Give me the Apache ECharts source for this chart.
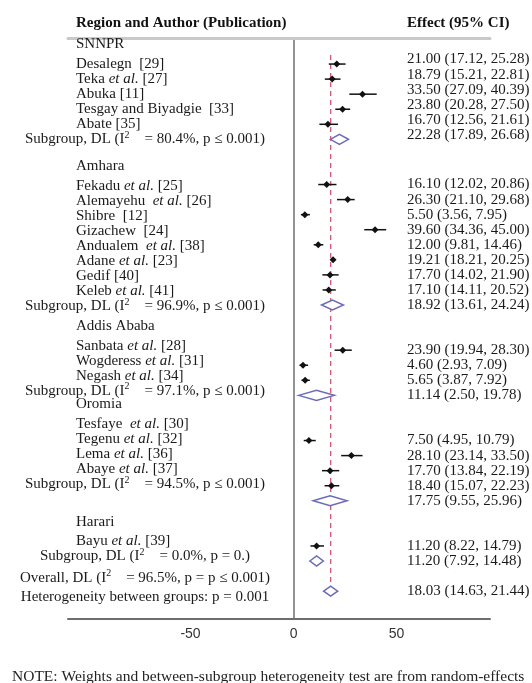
<!DOCTYPE html>
<html>
<head>
<meta charset="utf-8">
<script src="https://cdn.jsdelivr.net/npm/echarts@6/dist/echarts.min.js"></script>
<style>
  html, body { margin: 0; padding: 0; background: #fff; }
  #chart { width: 532px; height: 683px; }
</style>
</head>
<body>
<div id="chart"></div>
<script>
// ---- data ----
const regions = ['SNNPR', 'Amhara', 'Addis Ababa', 'Oromia', 'Harari'];

const studyLabels = [
  'Desalegn  [29]', 'Teka et al. [27]', 'Abuka [11]', 'Tesgay and Biyadgie  [33]', 'Abate [35]',
  'Fekadu et al. [25]', 'Alemayehu  et al. [26]', 'Shibre  [12]', 'Gizachew  [24]',
  'Andualem  et al. [38]', 'Adane et al. [23]', 'Gedif [40]', 'Keleb et al. [41]',
  'Sanbata et al. [28]', 'Wogderess et al. [31]', 'Negash et al. [34]',
  'Tesfaye  et al. [30]', 'Tegenu et al. [32]', 'Lema et al. [36]', 'Abaye et al. [37]',
  'Bayu et al. [39]'
];
const studyRegion = [0, 0, 0, 0, 0, 1, 1, 1, 1, 1, 1, 1, 1, 2, 2, 2, 3, 3, 3, 3, 4];
const studyEffect = [21.00, 18.79, 33.50, 23.80, 16.70, 16.10, 26.30, 5.50, 39.60, 12.00, 19.21,
  17.70, 17.10, 23.90, 4.60, 5.65, 7.50, 28.10, 17.70, 18.40, 11.20];
const studyLow = [17.12, 15.21, 27.09, 20.28, 12.56, 12.02, 21.10, 3.56, 34.36, 9.81, 18.21,
  14.02, 14.11, 19.94, 2.93, 3.87, 4.95, 23.14, 13.84, 15.07, 8.22];
const studyHigh = [25.28, 22.81, 40.39, 27.50, 21.61, 20.86, 29.68, 7.95, 45.00, 14.46, 20.25,
  21.90, 20.52, 28.30, 7.09, 7.92, 10.79, 33.50, 22.19, 22.23, 14.79];

const subgroupEffect = [22.28, 18.92, 11.14, 17.75, 11.20];
const subgroupLow = [17.89, 13.61, 2.50, 9.55, 7.92];
const subgroupHigh = [26.68, 24.24, 19.78, 25.96, 14.48];
const subgroupI2 = ['80.4%', '96.9%', '97.1%', '94.5%', '0.0%'];
const subgroupP = ['p ≤ 0.001', 'p ≤ 0.001', 'p ≤ 0.001', 'p ≤ 0.001', 'p = 0.'];

const overallEffect = 18.03;
const overallLow = 14.63;
const overallHigh = 21.44;
const overallI2 = '96.5%';
const overallP = 'p = p ≤ 0.001';
const heterogeneityP = 'p = 0.001';

const xTicks = [-50, 0, 50];

// ---- layout ----
const X_MIN = -109.5, X_MAX = 95.4;
const ROW_MIN = -1.73, ROW_MAX = 36.85;
const SERIF = 'Liberation Serif';
const FS = 15;
const labelShift = [0, 0.1, -0.3, -1.1, -0.3];   // per-region offset of the left-hand labels
const valueShift = [-0.3, 0, 0, 0, 0];          // per-region offset of the effect column
const headerShift = -0.3;

const fmt = v => v.toFixed(2);
const ciText = (e, l, h) => `${fmt(e)} (${fmt(l)}, ${fmt(h)})`;
const richAuthor = s => s.replace('et al.', '{i|et al.}');
const i2Text = (lead, i2, p) => `${lead}, DL (I{sup|2}    = ${i2}, ${p})`;

// build table rows: region header, studies, subgroup summary, blank line
const marks = [];      // [effect, low, high, row, kind]  kind 0 = study, 1 = pooled diamond
const leftRows = [];   // [x placeholder, row]
const leftTexts = [];
const leftKinds = [];  // 'left' | 'center'
const rightRows = [];
const rightTexts = [];

let row = -1;
regions.forEach((reg, g) => {
  leftTexts.push(reg); leftKinds.push('left');
  leftRows.push([0, row + labelShift[g] + headerShift]);
  row++;
  studyRegion.forEach((sr, i) => {
    if (sr !== g) return;
    marks.push([studyEffect[i], studyLow[i], studyHigh[i], row, 0]);
    leftTexts.push(richAuthor(studyLabels[i])); leftKinds.push('left');
    leftRows.push([0, row + labelShift[g]]);
    rightTexts.push(ciText(studyEffect[i], studyLow[i], studyHigh[i]));
    rightRows.push([0, row + valueShift[g]]);
    row++;
  });
  marks.push([subgroupEffect[g], subgroupLow[g], subgroupHigh[g], row, 1]);
  leftTexts.push(i2Text('Subgroup', subgroupI2[g], subgroupP[g])); leftKinds.push('center');
  leftRows.push([0, row + labelShift[g]]);
  rightTexts.push(ciText(subgroupEffect[g], subgroupLow[g], subgroupHigh[g]));
  rightRows.push([0, row + valueShift[g]]);
  row++;
  row++; // blank line between regions
});
const overallRow = row;
marks.push([overallEffect, overallLow, overallHigh, overallRow, 1]);
leftTexts.push(i2Text('Overall', overallI2, overallP)); leftKinds.push('center');
leftRows.push([0, overallRow - 0.9]);
rightTexts.push(ciText(overallEffect, overallLow, overallHigh));
rightRows.push([0, overallRow]);
leftTexts.push('Heterogeneity between groups: ' + heterogeneityP); leftKinds.push('center');
leftRows.push([0, overallRow + 0.4]);

const richStyles = {
  i: { fontStyle: 'italic', fontFamily: SERIF, fontSize: FS, fill: '#1a1a1a', color: '#1a1a1a' },
  sup: { fontFamily: SERIF, fontSize: 10, fill: '#1a1a1a', color: '#1a1a1a', padding: [0, 0, 8, 0] }
};

function textEl(x, y, text, align) {
  return {
    type: 'text', x: x, y: y,
    style: {
      text: text, fontFamily: SERIF, fontSize: FS, fill: '#1a1a1a',
      align: align, textAlign: align, verticalAlign: 'middle', textVerticalAlign: 'middle',
      rich: richStyles
    }
  };
}

const chart = echarts.init(document.getElementById('chart'), null, { renderer: 'canvas' });

chart.setOption({
  backgroundColor: '#fff',
  animation: false,
  title: [
    { text: 'Region and Author (Publication)', left: 76, top: 15, padding: 0,
      textStyle: { fontFamily: SERIF, fontSize: FS, fontWeight: 'bold', color: '#111', lineHeight: 16 } },
    { text: 'Effect (95% CI)', left: 407, top: 15, padding: 0,
      textStyle: { fontFamily: SERIF, fontSize: FS, fontWeight: 'bold', color: '#111', lineHeight: 16 } },
    { text: 'NOTE: Weights and between-subgroup heterogeneity test are from random-effects', left: 12, top: 669, padding: 0,
      textStyle: { fontFamily: SERIF, fontSize: 15.5, fontWeight: 'normal', color: '#222', lineHeight: 16 } }
  ],
  grid: { left: 68, right: 42, top: 38, bottom: 64, containLabel: false },
  xAxis: [
    {
      type: 'value', position: 'bottom', min: X_MIN, max: X_MAX,
      axisLine: { show: true, onZero: false, lineStyle: { color: '#6e6e6e', width: 2 } },
      axisTick: { show: false },
      splitLine: { show: false },
      axisLabel: { customValues: xTicks, margin: 8, color: '#333', fontFamily: 'Liberation Sans', fontSize: 14 }
    },
    {
      type: 'value', position: 'top', min: X_MIN, max: X_MAX,
      axisLine: { show: true, onZero: false, lineStyle: { color: '#c9c9c9', width: 3 } },
      axisTick: { show: false }, axisLabel: { show: false }, splitLine: { show: false }
    }
  ],
  yAxis: {
    type: 'value', inverse: true, min: ROW_MIN, max: ROW_MAX,
    axisLine: { show: true, onZero: true, onZeroAxisIndex: 0, lineStyle: { color: '#6e6e6e', width: 1.5 } },
    axisTick: { show: false }, axisLabel: { show: false }, splitLine: { show: false }
  },
  series: [
    {
      // reference line at the overall pooled estimate
      type: 'line', xAxisIndex: 0, symbol: 'none', silent: true,
      data: [[overallEffect, -0.6], [overallEffect, overallRow - 0.3]],
      lineStyle: { color: '#d45a7c', width: 1.4, type: [5, 4] },
      z: 1
    },
    {
      type: 'custom', xAxisIndex: 0, z: 3,
      data: marks,
      encode: { x: [0, 1, 2], y: 3 },
      renderItem: function (params, api) {
        const r = api.value(3);
        const pL = api.coord([api.value(1), r]);
        const pH = api.coord([api.value(2), r]);
        const pE = api.coord([api.value(0), r]);
        if (api.value(4) === 0) {
          const s = 3.5;
          return {
            type: 'group', children: [
              { type: 'line', shape: { x1: pL[0], y1: pL[1], x2: pH[0], y2: pH[1] },
                style: { stroke: '#111', lineWidth: 1.5 } },
              { type: 'polygon', shape: { points: [[pE[0] - s, pE[1]], [pE[0], pE[1] - s], [pE[0] + s, pE[1]], [pE[0], pE[1] + s]] },
                style: { fill: '#111' } }
            ]
          };
        }
        const h = 5;
        return {
          type: 'polygon',
          shape: { points: [[pL[0], pL[1]], [pE[0], pE[1] - h], [pH[0], pH[1]], [pE[0], pE[1] + h]] },
          style: { fill: '#fff', stroke: '#6b6bb8', lineWidth: 1.5 }
        };
      }
    },
    {
      // left-hand label column
      type: 'custom', xAxisIndex: 0, z: 4, silent: true,
      data: leftRows,
      encode: { x: 0, y: 1 },
      renderItem: function (params, api) {
        const i = params.dataIndex;
        const y = api.coord([0, api.value(1)])[1];
        const cs = params.coordSys;
        if (leftKinds[i] === 'center') return textEl(cs.x + 77, y, leftTexts[i], 'center');
        return textEl(cs.x + 8, y, leftTexts[i], 'left');
      }
    },
    {
      // effect (95% CI) column
      type: 'custom', xAxisIndex: 0, z: 4, silent: true,
      data: rightRows,
      encode: { x: 0, y: 1 },
      renderItem: function (params, api) {
        const y = api.coord([0, api.value(1)])[1];
        return textEl(params.coordSys.x + 339, y, rightTexts[params.dataIndex], 'left');
      }
    }
  ]
});
</script>
</body>
</html>
